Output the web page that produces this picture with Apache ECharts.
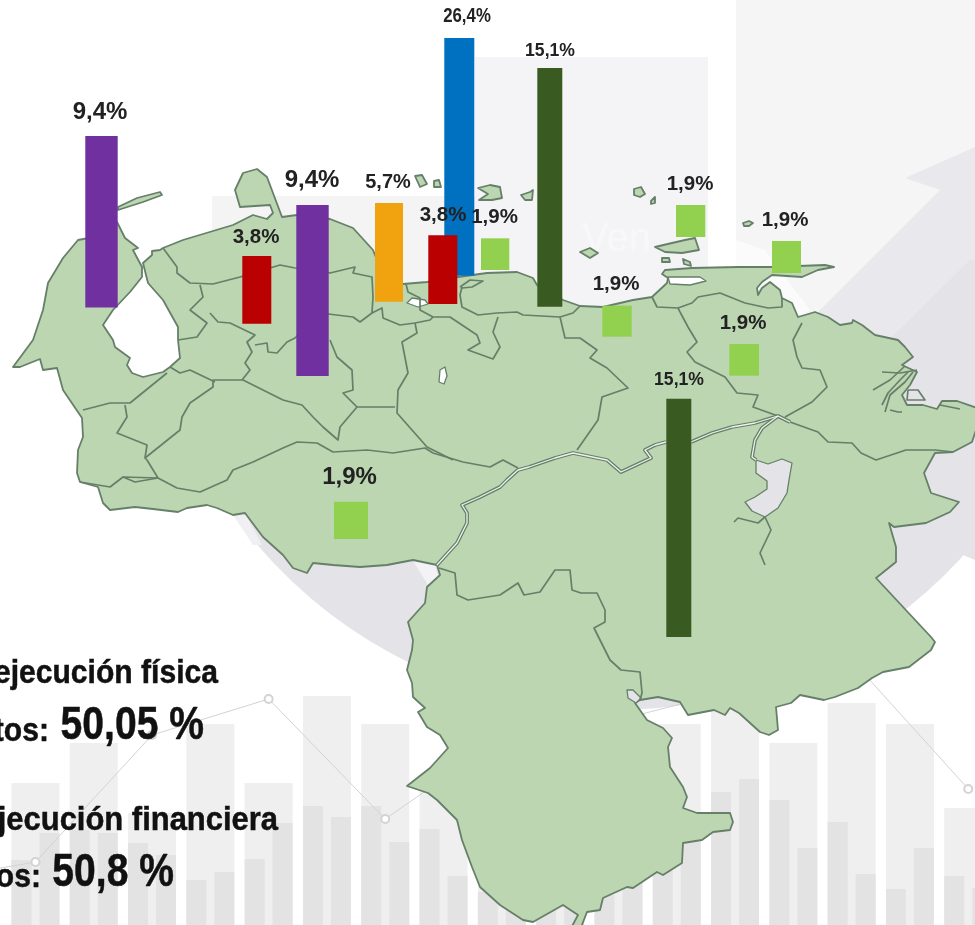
<!DOCTYPE html>
<html>
<head>
<meta charset="utf-8">
<title>Ejecución por estado</title>
<script src="https://cdn.jsdelivr.net/npm/echarts@6/dist/echarts.min.js"></script>
<style>
  html, body { margin: 0; padding: 0; background: #fff; overflow: hidden; }
  #main { width: 975px; height: 925px; }
</style>
</head>
<body>
<div id="main"></div>
<script>
// valores de las barras sobre el mapa (% de obras)
var barValues = [9.4, 3.8, 9.4, 5.7, 26.4, 3.8, 1.9, 15.1, 1.9, 1.9, 1.9, 1.9, 15.1, 1.9];

// barras grises decorativas del fondo, altura desde el borde inferior
var decorCategories = ['a0','a1','a2','a3','a4','a5','a6','a7','a8','a9','a10','a11','a12','a13','a14','a15','a16','a17'];
var decorPale  = [null,142,182,112,201,142,229,201,135,175,201,165,201,229,182,222,201,117];
var decorDarkA = [null,65,95,82,45,66,119,119,96,33,20,30,55,133,125,103,36,49];
var decorDarkB = [null,92,92,70,53,102,108,83,49,20,20,45,83,146,77,51,77,37];
var decorLine  = [53,63,null,190,null,226,null,106,null,187,null,205,null,235,null,265,null,136];

// donde cae cada barra en el mapa: x0, x1, y arriba, y abajo, color, letra, centro y del rotulo, centro x, escala x
var barLayout = [
  [85.3, 117.7, 136, 307.5, '#7030A0', 24, 112, 100, 1],
  [242.3, 271.3, 256, 323.7, '#BA0000', 20.5, 237, 256, 1],
  [296.3, 328.7, 205, 376, '#7030A0', 24, 180, 312, 1],
  [375, 403, 203, 301.7, '#F0A30F', 21, 182, 388, 0.95],
  [444.3, 474.3, 38, 275.7, '#0070C0', 21, 16, 467, 0.8],
  [428.3, 457.3, 235.3, 304, '#BA0000', 20.5, 215, 443, 1],
  [481, 509.3, 238.3, 270, '#92D050', 20.5, 217, 494.5, 1],
  [537.3, 562.3, 68, 306.7, '#395A21', 18.5, 51, 550, 0.95],
  [602.3, 631.7, 305.7, 336.7, '#92D050', 20.5, 284, 616, 1],
  [676, 705.3, 205, 237, '#92D050', 20.5, 184, 690, 1],
  [772, 801, 241, 273, '#92D050', 20.5, 220, 785, 1],
  [729.3, 759, 344, 375.7, '#92D050', 20.5, 323, 743, 1],
  [666.3, 691.3, 398.7, 637, '#395A21', 18.5, 380, 679, 0.95],
  [334, 368, 501.7, 539, '#92D050', 24, 477, 349.5, 1]
];

// contorno del pais y fronteras, trazados en el sistema de ejes 0-975 / 0-925
var outline = [[13,367],[33,340],[43,310],[48,283],[63,258],[78,240],[100,236],[117,222],[125,238],[138,248],[133,250],[142,267],[142,277],[130,292],[113,310],[103,325],[113,340],[115,347],[130,358],[127,365],[132,373],[143,377],[163,372],[170,367],[180,358],[178,340],[178,327],[163,300],[148,283],[143,263],[152,255],[152,251],[160,250],[163,248],[183,240],[213,231],[233,225],[253,215],[267,219],[273,213],[270,205],[240,207],[235,190],[243,173],[257,169],[267,177],[282,217],[297,215],[330,219],[353,228],[373,250],[385,280],[403,284],[427,282],[458,277],[487,273],[517,272],[533,278],[537,285],[563,300],[580,306],[603,307],[633,300],[652,297],[667,283],[668,278],[662,274],[665,270],[692,268],[738,267],[772,267],[825,265],[834,267],[818,270],[802,277],[772,275],[762,282],[757,288],[758,295],[762,288],[770,282],[780,290],[782,298],[792,303],[798,317],[805,315],[815,312],[828,317],[840,325],[852,323],[853,320],[862,325],[875,335],[898,340],[905,347],[913,357],[902,365],[917,372],[910,385],[902,395],[907,405],[923,405],[937,409],[942,401],[957,401],[977,408],[977,427],[972,442],[953,452],[935,453],[924,473],[931,493],[959,502],[950,512],[926,523],[894,527],[889,523],[896,547],[896,562],[876,578],[931,637],[935,642],[931,650],[909,667],[883,672],[872,678],[858,688],[835,697],[824,700],[800,695],[791,703],[776,707],[778,730],[769,735],[760,732],[739,713],[730,708],[725,715],[714,710],[688,715],[680,702],[658,697],[640,700],[635,703],[647,720],[663,728],[672,738],[668,747],[670,767],[683,787],[687,797],[683,808],[697,813],[730,813],[733,822],[730,830],[713,832],[702,840],[683,843],[682,863],[663,875],[657,872],[633,888],[627,887],[603,898],[600,910],[587,912],[580,930],[570,930],[578,915],[563,905],[533,922],[523,920],[500,905],[480,887],[472,867],[462,840],[457,820],[437,800],[428,793],[407,786],[430,768],[448,748],[440,735],[427,727],[418,712],[425,708],[413,697],[412,683],[407,670],[412,650],[413,640],[408,622],[425,603],[427,587],[440,575],[437,565],[413,560],[387,565],[360,567],[333,565],[313,563],[307,573],[293,568],[283,555],[263,537],[245,513],[233,515],[217,508],[207,505],[187,508],[178,512],[153,509],[135,507],[110,510],[103,503],[98,487],[80,482],[77,473],[78,450],[83,437],[82,418],[63,390],[57,368],[43,370],[40,359],[20,367]];

var islands = [
  [[118,207],[137,198],[160,192],[162,195],[143,202],[118,210]],
  [[655,247],[672,243],[685,240],[695,238],[699,250],[682,253],[665,252]],
  [[662,258],[669,258],[670,262],[662,262]],
  [[683,259],[690,262],[691,266],[684,264]],
  [[580,252],[590,248],[598,253],[590,258]],
  [[634,189],[641,187],[645,194],[640,197],[634,195]],
  [[651,201],[655,197],[655,203],[651,204]],
  [[521,195],[530,192],[533,190],[532,200],[525,200]],
  [[478,188],[490,185],[500,187],[502,198],[492,200],[479,200],[488,194]],
  [[415,176],[422,175],[427,184],[420,187]],
  [[434,181],[439,180],[441,187],[434,187]],
  [[743,223],[749,221],[753,223],[749,226],[744,226]]
];

var lakes = [
  { color: '#ffffff', pts: [[407,303],[412,298],[425,300],[428,304],[418,307]] },
  { color: '#ffffff', pts: [[440,370],[445,367],[447,376],[444,384],[439,382]] },
  { color: '#ffffff', pts: [[668,277],[700,277],[706,281],[690,285],[670,284]] },
  { color: '#e3e3e8', pts: [[756,460],[768,464],[782,459],[792,463],[789,480],[787,493],[778,508],[765,517],[752,511],[745,502],[755,497],[767,489],[767,481],[756,473]] },
  { color: '#e3e3e8', pts: [[627,690],[633,690],[641,698],[636,703],[628,698]] }
];

var borders = [
  [[163,248],[177,267],[177,273],[190,283],[213,284],[240,277],[280,265],[295,268],[320,270],[330,273],[355,267],[353,273],[372,277],[373,297],[372,313],[382,308],[383,318],[400,325],[415,323],[430,320],[433,317]],
  [[200,285],[203,297],[190,310],[207,323],[197,337],[178,340]],
  [[210,313],[218,322],[230,323],[255,335],[247,342],[252,352],[245,363],[250,370],[242,380]],
  [[255,345],[267,343],[268,352],[277,353],[287,342],[295,338],[320,313],[353,317],[360,322],[372,313]],
  [[406,284],[408,292],[420,298],[420,310],[433,317],[450,317],[477,335],[480,343],[468,350],[493,359],[500,347],[493,332],[498,317]],
  [[462,287],[460,295],[462,307],[478,315],[497,313],[517,312],[523,315],[560,317],[573,313],[580,306]],
  [[460,287],[470,280],[483,281],[472,287],[462,288]],
  [[560,317],[565,338],[580,338],[597,350],[590,358],[607,368],[628,388],[602,397],[598,420],[577,450]],
  [[415,323],[417,333],[402,342],[408,373],[398,390],[397,413],[427,447],[453,460]],
  [[330,340],[337,357],[352,370],[353,390],[343,393],[357,407],[395,407]],
  [[357,407],[340,427],[338,440],[323,427],[313,417],[302,405],[283,400],[243,380],[213,380],[213,387],[190,403],[182,417],[180,430],[145,458],[147,460],[158,478]],
  [[125,405],[127,417],[117,433],[147,445],[145,458]],
  [[170,367],[180,373],[190,370],[215,382]],
  [[167,373],[130,403],[110,403],[83,410]],
  [[80,482],[110,487],[123,477],[158,478],[177,488],[200,492],[227,480],[233,470],[253,462],[283,448],[297,442],[317,443],[333,452],[367,450],[393,453],[425,448],[433,453],[463,462],[490,467],[503,460],[518,468]],
  [[123,477],[135,482],[158,478]],
  [[680,312],[688,327],[697,342],[687,352],[695,362],[725,377],[737,393],[758,395],[753,407],[778,416]],
  [[652,297],[657,307],[678,308],[692,303],[698,297],[720,293],[745,303],[768,308],[782,307],[782,298]],
  [[678,308],[680,312]],
  [[802,323],[793,340],[797,357],[802,368],[820,370],[827,387],[812,402],[785,417]],
  [[790,422],[818,432],[828,442],[852,443],[861,453],[876,460],[906,450],[935,450],[953,452]],
  [[439,568],[455,573],[457,595],[468,600],[500,595],[518,583],[524,595],[540,592],[555,570],[570,570],[572,590],[581,593],[597,593],[605,610],[605,622],[594,628],[610,660],[621,670],[640,672],[642,693],[640,700]],
  [[734,522],[738,518],[758,523],[765,517],[771,530],[760,553],[765,565]],
  [[882,372],[900,373],[917,370]],
  [[873,390],[890,380],[905,366]],
  [[882,405],[888,393],[900,380],[908,372]],
  [[885,412],[890,395],[905,382],[913,372]],
  [[890,410],[898,412],[902,412]],
  [[908,390],[918,390],[925,400],[907,400],[908,390]],
  [[940,405],[960,409]]
];

// Orinoco: linea gris con un hilo blanco dentro
var rivers = [
  [[437,565],[457,543],[467,523],[467,513],[462,505],[480,497],[500,487],[507,480],[518,470],[529,467],[555,458],[573,453],[607,460],[621,472],[651,458],[645,450],[655,445],[666,442]],
  [[691,442],[712,433],[732,427],[755,423],[778,416],[790,422]],
  [[778,416],[762,428],[755,440],[752,457],[756,460]]
];

var mapShapes = [];
mapShapes.push({ kind: 'fill', pts: outline });
islands.forEach(function (p) { mapShapes.push({ kind: 'fill', pts: p }); });
rivers.forEach(function (p) { mapShapes.push({ kind: 'riverBase', pts: p }); });
lakes.forEach(function (l) { mapShapes.push({ kind: 'lake', pts: l.pts, color: l.color }); });
borders.forEach(function (p) { mapShapes.push({ kind: 'border', pts: p }); });
rivers.forEach(function (p) { mapShapes.push({ kind: 'riverCore', pts: p }); });

var MAP_FILL = '#BBD6B0', MAP_LINE = '#667F69';

function renderMap(params, api) {
  var s = mapShapes[params.dataIndex];
  var pts = s.pts.map(function (p) { return api.coord(p); });
  if (s.kind === 'fill') {
    return { type: 'polygon', shape: { points: pts }, style: { fill: MAP_FILL, stroke: MAP_LINE, lineWidth: 1.8, lineJoin: 'round' } };
  }
  if (s.kind === 'lake') {
    return { type: 'polygon', shape: { points: pts }, style: { fill: s.color, stroke: MAP_LINE, lineWidth: 1.3, lineJoin: 'round' } };
  }
  var w = s.kind === 'border' ? 1.7 : (s.kind === 'riverBase' ? 3.8 : 1.3);
  return { type: 'polyline', shape: { points: pts },
    style: { fill: 'none', stroke: s.kind === 'riverCore' ? '#eef2ee' : MAP_LINE, lineWidth: w, lineJoin: 'round' } };
}

function renderBar(params, api) {
  var b = barLayout[params.dataIndex];
  var a = api.coord([b[0], b[2]]), c = api.coord([b[1], b[3]]);
  var mid = api.coord([b[7], b[6]]);
  return { type: 'group', children: [
    { type: 'rect', shape: { x: a[0], y: a[1], width: c[0] - a[0], height: c[1] - a[1] }, style: { fill: b[4] } },
    { type: 'text', x: mid[0], y: mid[1], scaleX: b[8], style: {
      text: api.value(2).toFixed(1).replace('.', ',') + '%',
      fill: '#222', font: 'bold ' + b[5] + 'px "Liberation Sans", Arial, sans-serif',
      align: 'center', verticalAlign: 'middle' } }
  ] };
}

var myChart = echarts.init(document.getElementById('main'));

// texto estrecho: Liberation Sans comprimida en horizontal, con trazo para engrosarla
var leyenda = '"Liberation Sans", Arial, sans-serif';
function txt(right, y, str, size, sx) {
  return { type: 'text', z: 30, x: right, y: y, scaleX: sx, style: { text: str, fill: '#111',
    stroke: '#111', lineWidth: 0.5,
    font: 'bold ' + size + 'px ' + leyenda, align: 'right', verticalAlign: 'middle' } };
}

var option = {
  animation: false,
  backgroundColor: '#fff',
  tooltip: { show: false },
  grid: [
    { left: 0, top: 0, width: 975, height: 925 },
    { left: -52, top: 0, width: 1049.4, height: 925, outerBoundsMode: 'none' }
  ],
  xAxis: [
    { gridIndex: 0, type: 'value', min: 0, max: 975, show: false },
    { gridIndex: 1, type: 'category', data: decorCategories, show: false },
    { gridIndex: 1, type: 'category', data: decorCategories, show: false }
  ],
  yAxis: [
    { gridIndex: 0, type: 'value', min: 0, max: 925, inverse: true, show: false },
    { gridIndex: 1, type: 'value', min: 0, max: 925, show: false }
  ],
  // fondo: bloques claros, circulo gris y flecha
  graphic: { elements: [
    { type: 'rect', z: 0, shape: { x: 212, y: 196, width: 263, height: 110 }, style: { fill: '#f4f4f5' } },
    { type: 'rect', z: 0, shape: { x: 475, y: 57, width: 233, height: 250 }, style: { fill: '#f4f4f6' } },
    { type: 'rect', z: 0, shape: { x: 736, y: 0, width: 239, height: 340 }, style: { fill: '#f5f5f6' } },
    { type: 'polygon', z: 0, shape: { points: [[736,240],[765,250],[810,310],[800,316],[760,278],[736,265]] }, style: { fill: '#fbfbfb' } },
    { type: 'polygon', z: 0, shape: { points: [[905,178],[975,147],[975,500],[800,330],[940,190]] }, style: { fill: '#e9e9ed' } },
    { type: 'polygon', z: 0, shape: { points: [[892,337],[970,260],[975,260],[975,560],[880,520]] }, style: { fill: '#e3e3e8' } },
    { type: 'sector', z: 0, shape: { cx: 615, cy: 240, r: 470, r0: 300, startAngle: 0.7, endAngle: 2.5, clockwise: true }, style: { fill: '#e3e3e8' } },
    { type: 'polygon', z: 0, shape: { points: [[413,561],[435,565],[438,577],[428,585]] }, style: { fill: '#f3f3f5' } },
    { type: 'polygon', z: 0, shape: { points: [[233,515],[245,513],[262,545],[253,545]] }, style: { fill: '#f0f0f3' } },
    { type: 'text', z: 1, x: 582, y: 240, style: { text: 'Ven', fill: '#f8f8f9', font: '40px "Liberation Sans", sans-serif', verticalAlign: 'middle' } },
    txt(218, 674, 'ejecución física', 34, 0.885),
    txt(49, 732, 'tos:', 34, 0.885),
    txt(204, 726, '50,05 %', 46, 0.85),
    txt(278, 821, 'jecución financiera', 34, 0.91),
    txt(41, 878, 'os:', 34, 0.885),
    txt(174, 873, '50,8 %', 46, 0.85)
  ] },
  series: [
    { type: 'bar', xAxisIndex: 1, yAxisIndex: 1, data: decorPale, barWidth: 48, silent: true, z: 2,
      itemStyle: { color: '#efefef' } },
    { type: 'bar', xAxisIndex: 2, yAxisIndex: 1, data: decorDarkA, barWidth: 20, barGap: '40%', silent: true, z: 3,
      itemStyle: { color: '#e3e3e3' } },
    { type: 'bar', xAxisIndex: 2, yAxisIndex: 1, data: decorDarkB, barWidth: 20, barGap: '40%', silent: true, z: 3,
      itemStyle: { color: '#e3e3e3' } },
    { type: 'line', xAxisIndex: 1, yAxisIndex: 1, data: decorLine, connectNulls: true, silent: true, z: 4,
      symbol: 'emptyCircle', symbolSize: 8,
      lineStyle: { color: '#d3d3d3', width: 1 }, itemStyle: { color: '#d3d3d3', borderColor: '#d3d3d3', borderWidth: 1 } },
    { type: 'custom', xAxisIndex: 0, yAxisIndex: 0, z: 10, silent: true, renderItem: renderMap,
      data: mapShapes.map(function (s, i) { return [0, 0, i]; }) },
    { type: 'custom', xAxisIndex: 0, yAxisIndex: 0, z: 20, silent: true, renderItem: renderBar,
      data: barValues.map(function (v, i) { return [0, 0, v]; }) }
  ]
};
myChart.setOption(option);
</script>
</body>
</html>
